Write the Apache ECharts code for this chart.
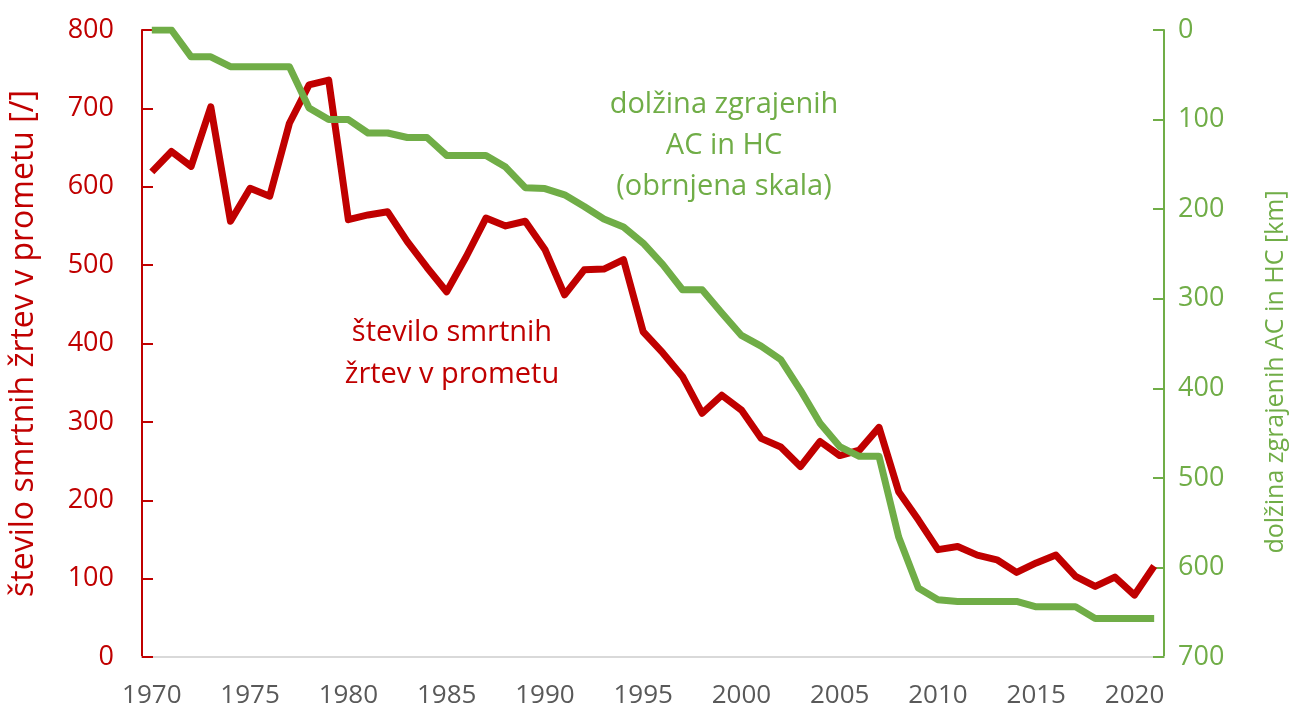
<!DOCTYPE html>
<html>
<head>
<meta charset="utf-8">
<script src="https://cdn.jsdelivr.net/npm/echarts@6/dist/echarts.min.js"></script>
<style>
html,body{margin:0;padding:0;background:#fff;}
#chart{width:1299px;height:713px;}
</style>
</head>
<body>
<div id="chart"></div>
<script>
const years = ['1970','1971','1972','1973','1974','1975','1976','1977','1978','1979',
  '1980','1981','1982','1983','1984','1985','1986','1987','1988','1989',
  '1990','1991','1992','1993','1994','1995','1996','1997','1998','1999',
  '2000','2001','2002','2003','2004','2005','2006','2007','2008','2009',
  '2010','2011','2012','2013','2014','2015','2016','2017','2018','2019',
  '2020','2021'];
const deaths = [619,645,626,702,556,598,588,681,730,736,
  558,564,568,530,497,466,511,560,550,556,
  520,462,494,495,507,415,388,358,311,334,
  315,279,268,243,275,257,264,293,211,175,
  137,141,130,124,108,120,130,103,90,102,
  79,116];
const motorwayKm = [0,0,30,30,41,41,41,41,87,100,
  100,115,115,120,120,140,140,140,153,176,
  177,184,197,211,220,238,262,290,290,316,
  341,353,368,402,439,465,476,476,566,623,
  636,638,638,638,638,644,644,644,657,657,
  657,657];
const leftAxisName = 'število smrtnih žrtev v prometu [/]';
const rightAxisName = 'dolžina zgrajenih AC in HC [km]';
const greenNote = ['dolžina zgrajenih', 'AC in HC', '(obrnjena skala)'];
const redNote = ['število smrtnih', 'žrtev v prometu'];

const RED = '#C00000', GREEN = '#70AD47', GRAY = '#595959';
const FONT = 'Open Sans';
const chart = echarts.init(document.getElementById('chart'));
chart.setOption({
  animation: false,
  backgroundColor: '#fff',
  grid: {left: 139, right: 135, top: 30, bottom: 56},
  xAxis: {
    type: 'category', data: years, boundaryGap: true,
    axisLine: {lineStyle: {color: '#D9D9D9', width: 2}},
    axisTick: {inside: true, length: 10, interval: 4, lineStyle: {color: '#D9D9D9', width: 2}},
    axisLabel: {interval: 4, color: GRAY, fontFamily: FONT, fontSize: 26, margin: 26},
    splitLine: {show: false}
  },
  yAxis: [{
    type: 'value', min: 0, max: 800, interval: 100, position: 'left',
    name: leftAxisName, nameLocation: 'middle', nameRotate: 90, nameGap: 102,
    nameTextStyle: {color: RED, fontFamily: FONT, fontSize: 32},
    axisLine: {show: true, lineStyle: {color: RED, width: 2}},
    axisTick: {show: true, inside: true, length: 11, lineStyle: {color: RED, width: 2}},
    axisLabel: {color: RED, fontFamily: FONT, fontSize: 27, margin: 28},
    splitLine: {show: false}
  }, {
    type: 'value', min: 0, max: 700, interval: 100, position: 'right', inverse: true,
    axisLine: {show: true, lineStyle: {color: GREEN, width: 2}},
    axisTick: {show: true, inside: true, length: 11, lineStyle: {color: GREEN, width: 2}},
    axisLabel: {color: GREEN, fontFamily: FONT, fontSize: 27, margin: 14, align: 'left'},
    splitLine: {show: false}
  }],
  series: [{
    name: 'deaths', type: 'line', yAxisIndex: 0, data: deaths,
    symbol: 'none', lineStyle: {color: RED, width: 7, join: 'round'}, z: 2
  }, {
    name: 'km', type: 'line', yAxisIndex: 1, data: motorwayKm,
    symbol: 'none', lineStyle: {color: GREEN, width: 7, join: 'round'}, z: 3
  }],
  graphic: [
    {type: 'text', x: 1276, y: 372, rotation: Math.PI / 2,
      style: {text: rightAxisName, fill: GREEN, font: '25px "' + FONT + '"', align: 'center', verticalAlign: 'middle'}},
    ...greenNote.map((t, i) => ({type: 'text', x: 724, y: 105 + i * 41,
      style: {text: t, fill: GREEN, font: '29px "' + FONT + '"', align: 'center', verticalAlign: 'middle'}})),
    ...redNote.map((t, i) => ({type: 'text', x: 452, y: 333 + i * 42,
      style: {text: t, fill: RED, font: '29px "' + FONT + '"', align: 'center', verticalAlign: 'middle'}}))
  ]
});
</script>
</body>
</html>
